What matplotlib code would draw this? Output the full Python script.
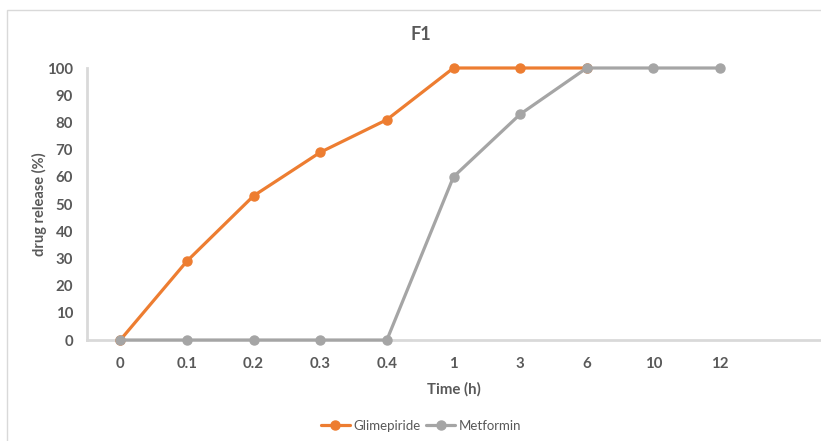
import matplotlib
matplotlib.use("Agg")
import matplotlib.pyplot as plt
from matplotlib.patches import Rectangle

# Sampling times (categorical axis) and cumulative release values
time_labels = ["0", "0.1", "0.2", "0.3", "0.4", "1", "3", "6", "10", "12", ""]
glimepiride = [0, 29, 53, 69, 81, 100, 100, 100]
metformin = [0, 0, 0, 0, 0, 60, 83, 100, 100, 100]

orange = "#ED7D31"
gray = "#A5A5A5"
text_col = "#595959"
axis_col = "#D9D9D9"

plt.rcParams["font.family"] = ["Lato", "DejaVu Sans"]

fig = plt.figure(figsize=(8.21, 4.41), dpi=100)
fig.patch.set_facecolor("white")

# Chart-area border
fig.add_artist(Rectangle((7 / 821, -0.1), 1.2, (441 - 10) / 441 + 0.1,
                         transform=fig.transFigure, fill=False,
                         edgecolor="#D9D9D9", lw=1.0))

ax = fig.add_axes([87 / 821, 101 / 441, 733 / 821, 272 / 441])

x_g = list(range(len(glimepiride)))
x_m = list(range(len(metformin)))
ax.plot(x_g, glimepiride, color=orange, lw=2.3, marker="o", ms=6.5,
        label="Glimepiride", zorder=3, solid_capstyle="round", clip_on=False)
ax.plot(x_m, metformin, color=gray, lw=2.3, marker="o", ms=6.5,
        label="Metformin", zorder=4, solid_capstyle="round", clip_on=False)

ax.set_xlim(-0.5, len(time_labels) - 0.5)
ax.set_ylim(0, 100)
ax.set_xticks(range(len(time_labels)))
ax.set_xticklabels(time_labels)
ax.set_yticks(range(0, 101, 10))

for side in ("top", "right"):
    ax.spines[side].set_visible(False)
for side in ("left", "bottom"):
    ax.spines[side].set_color(axis_col)
    ax.spines[side].set_linewidth(2.0)
    ax.spines[side].set_zorder(1)

ax.tick_params(axis="both", length=0, colors=text_col, labelsize=10.8)
ax.tick_params(axis="x", pad=12)
ax.tick_params(axis="y", pad=10)
for lab in ax.get_xticklabels() + ax.get_yticklabels():
    lab.set_fontweight("bold")

ax.set_xlabel("Time (h)", fontsize=10.8, fontweight="bold", color=text_col,
              labelpad=8)
ax.set_ylabel("drug release (%)", fontsize=10.5, fontweight="bold",
              color=text_col)
ax.yaxis.set_label_coords(-(87 - 47) / 733, 0.5)

fig.text(421 / 821, 1 - 35 / 441, "F1", ha="center", va="center",
         fontsize=13, fontweight="bold", color=text_col)

leg = fig.legend(loc="center", bbox_to_anchor=(421 / 821, 1 - 426 / 441),
                 ncol=2, frameon=False, fontsize=9.5, handlelength=2.2,
                 columnspacing=0.4, handletextpad=0.3)
for t in leg.get_texts():
    t.set_color(text_col)

fig.savefig("out.png", dpi=100)
